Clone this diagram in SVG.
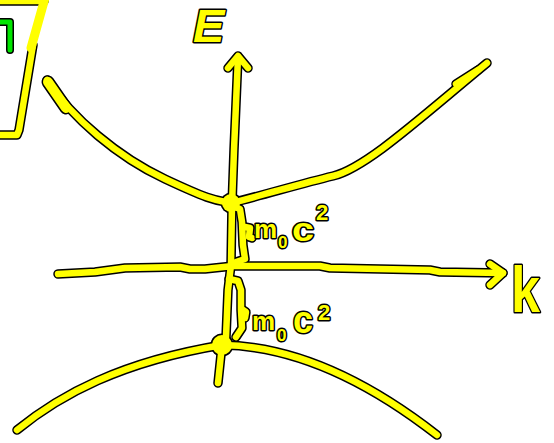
<svg xmlns="http://www.w3.org/2000/svg" xmlns:xlink="http://www.w3.org/1999/xlink" width="554" height="443" viewBox="0 0 554 443">
<style>
.o{fill:none;stroke:#000;stroke-width:9.5;stroke-linecap:round;stroke-linejoin:round}
.y{fill:none;stroke:#ff0;stroke-width:6.5;stroke-linecap:round;stroke-linejoin:round}
.ot{fill:none;stroke:#000;stroke-width:13;stroke-linecap:round;stroke-linejoin:round}
.yt{fill:none;stroke:#ff0;stroke-width:10;stroke-linecap:round;stroke-linejoin:round}
.t{font-family:"Liberation Sans",Arial,sans-serif;font-weight:bold;fill:#ff0;stroke:#000;stroke-width:3;paint-order:stroke;stroke-linejoin:round}
</style>
<defs>
<path id="pUpper" d="M47,80 C72,118 118,157 165,179 S215,200 231,203 C260,196 300,184 333,176 S420,118 487,63"/>
<path id="pUpperA" d="M48,82 L66,108"/>
<path id="pUpperB" d="M456,84 L478,70"/>
<path id="pLower" d="M17,430 C60,395 120,362 222,345 C290,346 360,375 437,435"/>
<path id="pV" d="M218,383 L222,345 L226,337 L228,290 L231,265 L232,205 L234,150 L238,57"/>
<path id="pVHead" d="M228,68 L238,56 L248,68"/>
<path id="pH" d="M58,274 L95,272 L125,268 L180,267 L190,269 L205,269 L233,266 L320,266 L330,268 L430,270 L440,272 L503,273"/>
<path id="pHHead" d="M490,264 L503,273 L490,285"/>
<path id="pB1" d="M232,206 L240,209 L242,222 L243,245 L245,259 L236,262"/>
<path id="pT1" d="M245,227 L250,228 L249,237 L252,238"/>
<path id="pB2" d="M229,279 L238,281 L241,290 L241,310 L242,328 L236,337"/>
<path id="pT2" d="M243,310 L246,312 L245,318"/>
<path id="pFrag" d="M33,45 L19,130 L17,135 L0,135"/>
<path id="pFragTop" d="M0,1 L44,1"/>
</defs>
<g id="outlines">
<use href="#pUpper" class="o"/><use href="#pUpperA" class="ot"/><use href="#pUpperB" class="o"/>
<use href="#pLower" class="o"/>
<use href="#pV" class="o"/><use href="#pVHead" class="o"/>
<use href="#pH" class="o"/><use href="#pHHead" class="o"/>
<use href="#pB1" class="o"/><use href="#pT1" class="o"/>
<use href="#pB2" class="o"/><use href="#pT2" class="o"/>
<use href="#pFrag" class="o"/><use href="#pFragTop" class="o"/>
<circle cx="231" cy="203" r="10.5" fill="#000"/>
<circle cx="222" cy="345" r="11.5" fill="#000"/>
</g>
<g id="fragment">
<use href="#pFragTop" class="y"/>
<path d="M45,-2 L31,48" fill="none" stroke="#ff0" stroke-width="9" stroke-linecap="round"/>
<use href="#pFrag" class="y"/>
<path d="M0,22 L10,22 L10,50" fill="none" stroke="#000" stroke-width="8" stroke-linecap="round" stroke-linejoin="round"/>
<path d="M0,22 L10,22 L10,50" fill="none" stroke="#00e600" stroke-width="5" stroke-linecap="round" stroke-linejoin="round"/>
</g>
<g id="upper-band">
<use href="#pUpper" class="y"/><use href="#pUpperA" class="yt"/><use href="#pUpperB" class="y"/>
</g>
<g id="lower-band">
<use href="#pLower" class="y"/>
</g>
<g id="connectors">
<use href="#pV" class="y"/><use href="#pVHead" class="y"/>
<use href="#pH" class="y"/><use href="#pHHead" class="y"/>
<use href="#pB1" class="y"/><use href="#pT1" class="y"/>
<use href="#pB2" class="y"/><use href="#pT2" class="y"/>
</g>
<g id="dot-upper"><circle cx="231" cy="203" r="9" fill="#ff0"/></g>
<g id="dot-lower"><circle cx="222" cy="345" r="10" fill="#ff0"/></g>
<g id="label-E"><text class="t" x="193" y="42" font-size="47" font-style="italic">E</text></g>
<g id="label-k"><text class="t" x="511" y="312" font-size="64" textLength="29" lengthAdjust="spacingAndGlyphs">k</text></g>
<g id="label-gap-upper"><text class="t" font-size="26"><tspan x="254" y="238">m</tspan><tspan x="278" y="248" font-size="17">0</tspan><tspan x="292" y="241" font-size="34" textLength="22" lengthAdjust="spacingAndGlyphs">c</tspan><tspan x="316" y="220" font-size="22">2</tspan></text></g>
<g id="label-gap-lower"><text class="t" font-size="26"><tspan x="252" y="330">m</tspan><tspan x="277" y="341" font-size="17">0</tspan><tspan x="293" y="333" font-size="38" textLength="20" lengthAdjust="spacingAndGlyphs">c</tspan><tspan x="318" y="320" font-size="22">2</tspan></text></g>
</svg>
